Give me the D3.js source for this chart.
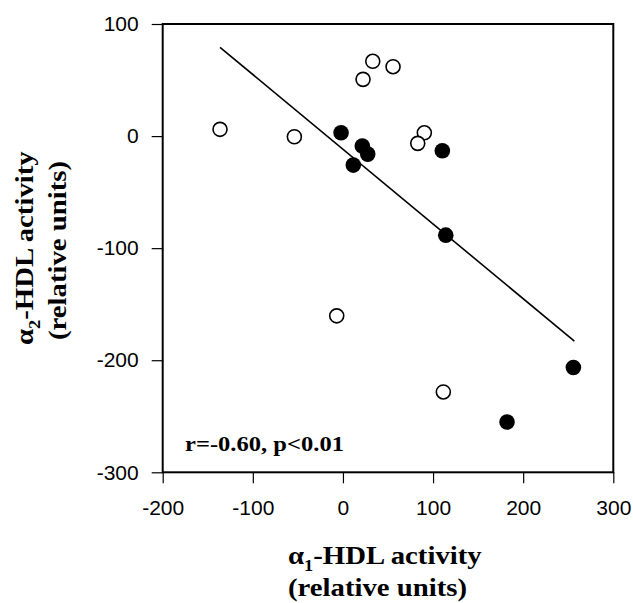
<!DOCTYPE html>
<html>
<head>
<meta charset="utf-8">
<script src="https://cdn.jsdelivr.net/npm/d3@7"></script>
<style>
  html, body { margin: 0; padding: 0; background: #fff; }
  svg { display: block; }
</style>
</head>
<body>
<svg id="chart" width="633" height="603"></svg>
<script>
// α1-HDL vs α2-HDL activity (relative units)
// Open circles: one group; filled circles: the other group.
const openX   = [-136.4, -53.9, 22.3, 33.1, 55.6, 90.3, 83.0, -6.9, 111.4];
const openY   = [6.0, -0.6, 50.6, 66.7, 61.9, 2.9, -6.5, -160.4, -228.3];
const filledX = [-2.1, 21.5, 27.5, 11.5, 110.3, 114.1, 255.7, 182.1];
const filledY = [2.9, -8.9, -16.1, -25.9, -13.1, -88.4, -206.5, -255.1];

// Regression line endpoints
const fitX = [-136.4, 256.8];
const fitY = [79.2, -183.0];

const xTicks = [-200, -100, 0, 100, 200, 300];
const yTicks = [100, 0, -100, -200, -300];
const statsLabel = "r=-0.60, p<0.01";

const svg = d3.select("#chart");
const plotL = 162.7, plotR = 613.3, plotT = 24, plotB = 472.3;

const x = d3.scaleLinear().domain([-200, 300]).range([plotL, plotR]);
const y = d3.scaleLinear().domain([-300, 100]).range([plotB, plotT]);

const tickFont = "'Liberation Sans', Arial, sans-serif";
const serif = "'Liberation Serif', 'Times New Roman', serif";

// Axes
const xAxis = svg.append("g")
  .attr("transform", `translate(0,${plotB})`)
  .call(d3.axisBottom(x).tickValues(xTicks).tickSize(11).tickPadding(17).tickFormat(d => String(d)));
const yAxis = svg.append("g")
  .attr("transform", `translate(${plotL},0)`)
  .call(d3.axisLeft(y).tickValues(yTicks).tickSize(11).tickPadding(13).tickFormat(d => String(d)));

[xAxis, yAxis].forEach(g => {
  g.select(".domain").remove();
  g.selectAll(".tick line").attr("stroke", "#000").attr("stroke-width", 1.2);
  g.selectAll(".tick text")
    .attr("fill", "#000")
    .style("font-family", tickFont)
    .style("font-size", "21px");
});

// Frame
svg.append("rect")
  .attr("x", plotL).attr("y", plotT)
  .attr("width", plotR - plotL).attr("height", plotB - plotT)
  .attr("fill", "none").attr("stroke", "#000").attr("stroke-width", 2);

// Fit line
svg.append("line")
  .attr("x1", x(fitX[0])).attr("y1", y(fitY[0]))
  .attr("x2", x(fitX[1])).attr("y2", y(fitY[1]))
  .attr("stroke", "#000").attr("stroke-width", 1.6);

// Points
const openPts = openX.map((v, i) => [v, openY[i]]);
const filledPts = filledX.map((v, i) => [v, filledY[i]]);

svg.append("g").selectAll("circle").data(openPts).join("circle")
  .attr("cx", d => x(d[0])).attr("cy", d => y(d[1])).attr("r", 7)
  .attr("fill", "#fff").attr("stroke", "#000").attr("stroke-width", 1.6);

svg.append("g").selectAll("circle").data(filledPts).join("circle")
  .attr("cx", d => x(d[0])).attr("cy", d => y(d[1])).attr("r", 7.8)
  .attr("fill", "#000");

// Statistics label
svg.append("g").attr("transform", "translate(185,450.5) scale(1.17,1)")
  .append("text")
  .style("font-family", serif).style("font-weight", "bold").style("font-size", "21px")
  .attr("fill", "#000")
  .text(statsLabel);

// Title helper: bold serif text with a subscript digit after α
function titleLine(g, prefix, sub, rest) {
  const t = g.append("text")
    .style("font-family", serif).style("font-weight", "bold").style("font-size", "25px")
    .attr("fill", "#000");
  t.append("tspan").text(prefix);
  if (sub) {
    t.append("tspan").attr("dy", 7).style("font-size", "16px").text(sub);
    t.append("tspan").attr("dy", -7).text(rest);
  }
  return t;
}

// X axis title
const xt1 = svg.append("g").attr("transform", "translate(288,564) scale(1.15,1)");
titleLine(xt1, "α", "1", "-HDL activity");
const xt2 = svg.append("g").attr("transform", "translate(288,596) scale(1.15,1)");
titleLine(xt2, "(relative units)");

// Y axis title (rotated)
const yt1 = svg.append("g").attr("transform", "translate(33,345) rotate(-90) scale(1.15,1)");
titleLine(yt1, "α", "2", "-HDL activity");
const yt2 = svg.append("g").attr("transform", "translate(66,340) rotate(-90) scale(1.15,1)");
titleLine(yt2, "(relative units)");
</script>
</body>
</html>
